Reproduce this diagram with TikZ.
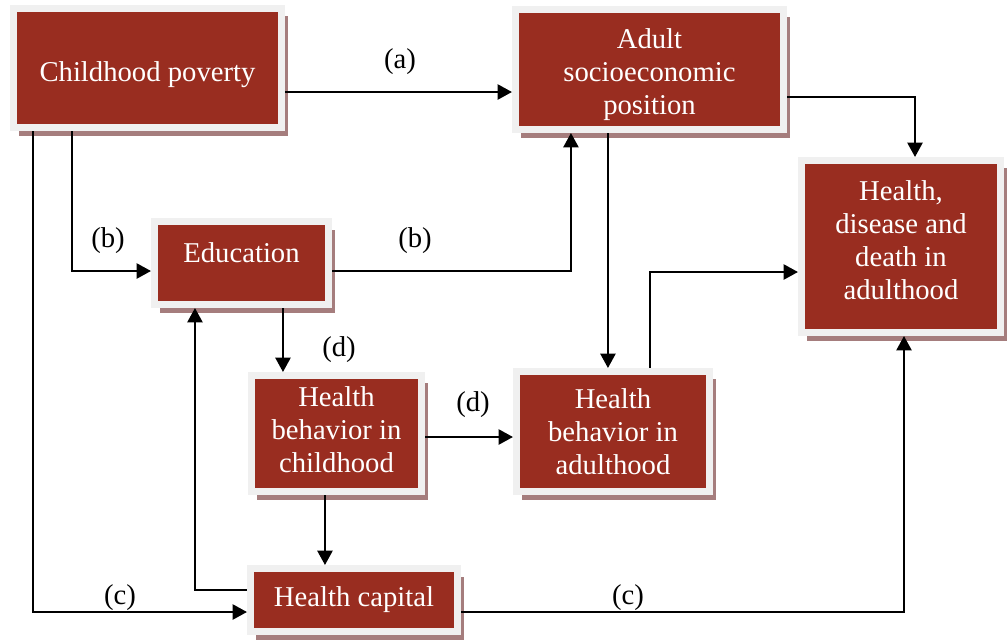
\documentclass[tikz,border=0pt]{standalone}
\usepackage{fontspec}
\setmainfont{Liberation Serif}
\usepackage{xcolor}
\usepackage{tikz}
\usetikzlibrary{arrows.meta, positioning, calc, shadows}
\definecolor{boxred}{RGB}{153,45,32}
\definecolor{framegray}{RGB}{240,240,240}
\definecolor{shadowbrown}{RGB}{165,125,125}
\tikzstyle{factor} = [rectangle, inner sep=0pt, align=center, text=white, fill=boxred, draw=framegray, line width=0.175cm, drop shadow={shadow xshift=0.15cm, shadow yshift=-0.2cm, fill=shadowbrown, opacity=1}, font=\fontsize{20.4}{23.5}\selectfont]
\tikzstyle{path} = [line width=0.05cm, -{Triangle[length=0.36cm, width=0.38cm]}]
\tikzstyle{tag} = [inner sep=0pt, font=\fontsize{20.4}{23.5}\selectfont]

\begin{document}
\begin{tikzpicture}[x=0.025cm, y=-0.025cm]
      \useasboundingbox (0,0) rectangle (1007,641);

      % Boxes
      \node[factor, minimum width=6.7cm, minimum height=2.975cm] (cp) at (147.5,68) {\rule{0pt}{24pt}Childhood poverty};
      \node[factor, minimum width=6.7cm, minimum height=3.0cm] (asp) at (649.5,69.5) {\rule{0pt}{21pt}Adult\\socioeconomic\\position};
      \node[factor, minimum width=4.975cm, minimum height=4.3cm] (health) at (901,246.5) {Health,\\disease and\\death in\\adulthood\rule[-9pt]{0pt}{9pt}};
      \node[factor, minimum width=4.35cm, minimum height=2.075cm, text depth=0.5cm] (edu) at (241.5,263) {Education};
      \node[factor, minimum width=4.25cm, minimum height=2.9cm] (hbc) at (336.5,433.5) {Health\\behavior in\\childhood\rule[-6pt]{0pt}{6pt}};
      \node[factor, minimum width=4.825cm, minimum height=3.0cm] (hba) at (613,431.5) {Health\\behavior in\\adulthood};
      \node[factor, minimum width=5.175cm, minimum height=1.575cm] (hc) at (354,600) {Health capital};

      % (a)
      \draw[path] ($(cp.east)+(0,24)$) coordinate (a0) -- (a0 -| asp.west);
      \node[tag] (la) at (400,62) {(a)};

      % (b)
      \draw[path] ($(cp.south west)+(62,0)$) |- ($(edu.west)+(0,8)$);
      \draw[path] ($(edu.east)+(0,8)$) -| ($(asp.south west)+(59,0)$);
      \node[tag] (lb1) at (108,241) {(b)};
      \node[tag] (lb2) at (415,241) {(b)};

      % (c)
      \draw[path] ($(cp.south west)+(23,0)$) |- ($(hc.west)+(0,12)$);
      \draw[path] ($(hc.east)+(0,12)$) -| ($(health.south)+(3,0)$);
      \node[tag] (lc1) at (120,598) {(c)};
      \node[tag] (lc2) at (628,598) {(c)};

      % (d)
      \draw[path] ($(edu.south west)+(132,0)$) coordinate (d0) -- (d0 |- hbc.north);
      \draw[path] ($(hbc.east)+(0,3.5)$) coordinate (d1) -- (d1 -| hba.west);
      \node[tag] (ld1) at (339,350) {(d)};
      \node[tag] (ld2) at (473,405) {(d)};

      % Other links
      \draw[path] ($(asp.east)+(0,27.5)$) -| ($(health.north)+(14,0)$);
      \draw[path] ($(asp.south west)+(96,0)$) coordinate (s0) -- (s0 |- hba.north);
      \draw[path] ($(hba.north west)+(137,0)$) |- ($(health.west)+(0,25.5)$);
      \draw[path] ($(hbc.south west)+(77,0)$) coordinate (e0) -- (e0 |- hc.north);
      \draw[path] ($(hc.west)+(0,-10)$) -| ($(edu.south west)+(44,0)$);
    \end{tikzpicture}
\end{document}
